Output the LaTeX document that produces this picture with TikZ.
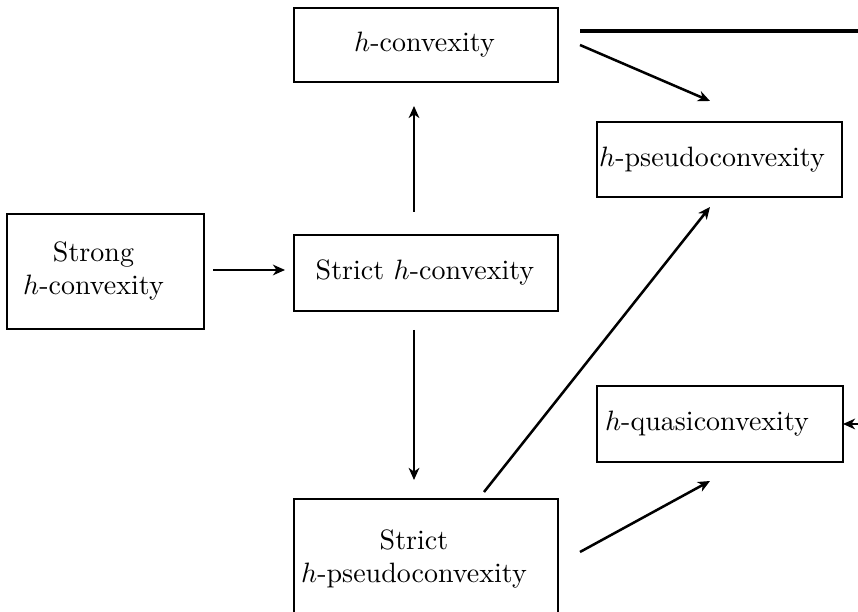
\documentclass[tikz,border=0pt]{standalone}
\usepackage{tikz}
\usetikzlibrary{calc,arrows.meta}

\begin{document}
\begin{tikzpicture}[
    x=0.357pt, y=-0.357pt,
    boxline/.style={line width=0.7pt},
    arr/.style={-{Stealth[length=4.3pt,width=3.8pt,inset=1.3pt]}, line width=0.9pt},
    boxtext/.style={align=center, inner sep=0pt}
]
\useasboundingbox (0,0) rectangle (858,612);

% frames
\draw[boxline] (294,8) rectangle (558,82);
\draw[boxline] (597,122) rectangle (842,197);
\draw[boxline] (7,214) rectangle (204,329);
\draw[boxline] (294,235) rectangle (558,311);
\draw[boxline] (597,386) rectangle (843,462);
\draw[boxline] (294,499) rectangle (558,640);

% texts
\node[boxtext] (hconv) at (424.5,45) {$h$-convexity};
\node[boxtext] (hpseudo) at (712,160) {$h$-pseudoconvexity};
\node[boxtext] (strong) at (93.5,271) {Strong\\$h$-convexity};
\node[boxtext] (strict) at (425,273) {Strict $h$-convexity};
\node[boxtext] (hquasi) at (707,424) {$h$-quasiconvexity};
\node[boxtext] (spseudo) at (414,559) {Strict\\$h$-pseudoconvexity};

\coordinate (topout) at (870,31);
\coordinate (quasiin) at (870,424);

% implications
\draw[arr] ($(strict)+(-11,-61)$) -- ($(hconv)+(-10.5,61)$);
\draw[arr] ($(strong)+(119.5,-1)$) -- ($(strict)+(-140,-3)$);
\draw[arr] ($(strict)+(-11,57)$) -- ($(spseudo)+(0,-79)$);
\draw[arr] ($(hconv)+(155.5,0)$) -- ($(hpseudo)+(-2,-59)$);
\draw[arr] ($(spseudo)+(70,-67)$) -- ($(hpseudo)+(-2,47)$);
\draw[arr] ($(spseudo)+(166,-7)$) -- ($(hquasi)+(3,57)$);
\draw[arr] (quasiin) -- ($(hquasi)+(136,0)$);
\draw[line width=1.2pt] ($(hconv)+(155.5,-14)$) -- (topout);
\end{tikzpicture}
\end{document}
